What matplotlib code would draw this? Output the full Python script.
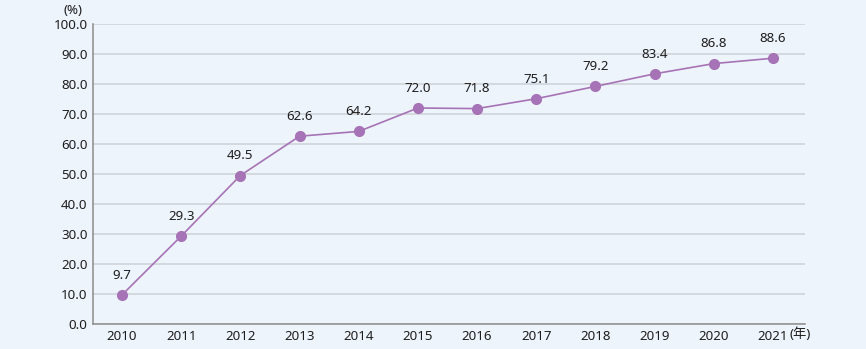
import matplotlib
matplotlib.use("Agg")
import matplotlib.pyplot as plt

plt.rcParams['font.family'] = ['Noto Sans', 'Noto Sans CJK JP', 'DejaVu Sans']

years = ['2010', '2011', '2012', '2013', '2014', '2015', '2016', '2017', '2018', '2019', '2020', '2021']
values = [9.7, 29.3, 49.5, 62.6, 64.2, 72.0, 71.8, 75.1, 79.2, 83.4, 86.8, 88.6]
yticks = [0, 10, 20, 30, 40, 50, 60, 70, 80, 90, 100]

bg = '#EEF4FC'
line_c = '#A673B6'
txt_c = '#1E1E1E'
fs = 9.6

fig = plt.figure(figsize=(8.66, 3.49), dpi=100, facecolor=bg)
ax = fig.add_axes([93/866, 1-324/349, (805-93)/866, 300/349])
ax.set_facecolor(bg)

x = list(range(len(years)))
ax.plot(x, values, color=line_c, lw=1.2, marker='o', ms=7, mfc=line_c, mec=line_c, zorder=3)
for xi, v in zip(x, values):
    ax.annotate(f'{v:.1f}', (xi, v), xytext=(0, 9.5), textcoords='offset points',
                ha='center', va='bottom', fontsize=fs, color=txt_c)

ax.set_xlim(-0.49, 11.54)
ax.set_ylim(0, 100)
ax.set_yticks(yticks)
ax.set_yticklabels([f'{t:.1f}' for t in yticks])
ax.set_xticks(x)
ax.set_xticklabels(years)
ax.tick_params(axis='both', length=0, labelsize=fs, colors=txt_c)
ax.tick_params(axis='y', pad=4)
ax.tick_params(axis='x', pad=4)
ax.grid(axis='y', color='#CFD3DA', lw=1.2)
ax.set_axisbelow(True)
for s in ['top', 'right']:
    ax.spines[s].set_visible(False)
ax.spines['left'].set_color('#8C8C8C')
ax.spines['bottom'].set_color('#8C8C8C')
ax.spines['left'].set_linewidth(1.1)
ax.spines['bottom'].set_linewidth(1.1)

fig.text(73/866, 1-11/349, '(%)', ha='center', va='center', fontsize=fs, color=txt_c)
fig.text(790/866, 1-334/349, '(年)', ha='left', va='center', fontsize=fs, color=txt_c)

fig.savefig('out.png', dpi=100, facecolor=bg)
